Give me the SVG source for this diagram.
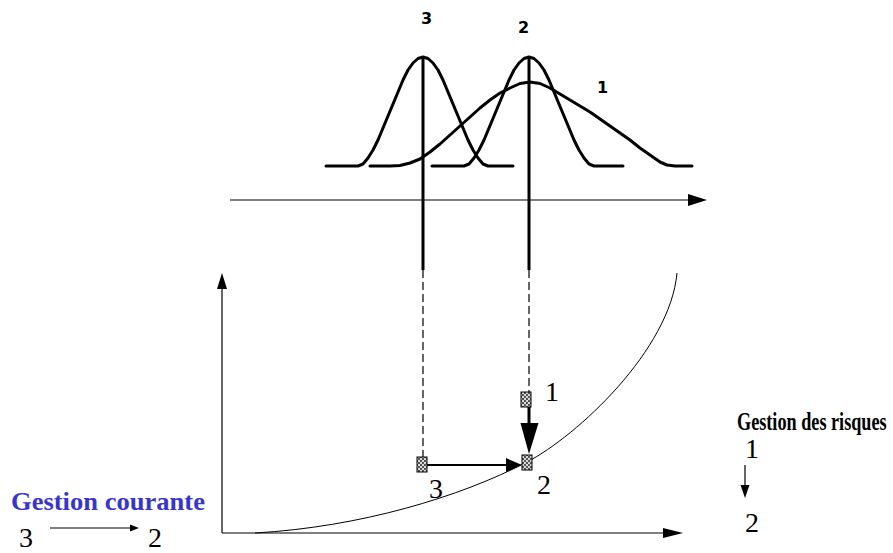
<svg xmlns="http://www.w3.org/2000/svg" width="893" height="553" viewBox="0 0 893 553">
<style>
.bell{fill:none;stroke:#000;stroke-width:3;stroke-linejoin:round;stroke-linecap:round}
.ax{fill:none;stroke:#000;stroke-width:1.2}
.thick{stroke:#000;stroke-width:3}
.dash{stroke:#000;stroke-width:1.2;stroke-dasharray:8 4}
.num{font-family:"Liberation Serif","Times New Roman",serif;font-size:28px;fill:#000}
.small{font-family:"DejaVu Sans",Arial,sans-serif;font-size:16px;font-weight:bold;fill:#000}
.title{font-family:"Liberation Serif","Times New Roman",serif;font-weight:bold}
.pt{fill:url(#chk);stroke:#000;stroke-width:1}
</style>
<defs>
<pattern id="chk" width="4" height="4" patternUnits="userSpaceOnUse">
<rect width="4" height="4" fill="#d8d8d8"/>
<rect width="2" height="2" fill="#555"/>
<rect x="2" y="2" width="2" height="2" fill="#555"/>
</pattern>
</defs>
<rect width="893" height="553" fill="#fff"/>

<g id="distributions">
<path class="bell" d="M326,166 L358,166 L363,164 L368,158 L373,150 L378,140 L383,128 L388,116 L393,104 L398,92 L403,80 L408,70 L413,63 L418,58.5 L423,57 L428,58.5 L433,63 L438,70 L443,80 L448,92 L453,104 L458,116 L463,128 L468,140 L473,150 L478,158 L483,164 L488,166 L513,166"/>
<path class="bell" d="M432,166 L464,166 L469,164 L474,158 L479,150 L484,140 L489,128 L494,116 L499,104 L504,92 L509,80 L514,70 L519,63 L524,58.5 L529,57 L534,58.5 L539,63 L544,70 L549,80 L554,92 L559,104 L564,116 L569,128 L574,140 L579,150 L584,158 L589,164 L594,166 L623,166"/>
<path class="bell" d="M370,166 L390,166 L400,165.5 L410,163 L420,159 L430,152 L440,144 L450,135 L460,126 L470,117 L480,108 L490,100 L500,93 L510,88 L520,83.5 L530,82 L540,83.5 L550,88 L560,94 L570,100 L580,106 L590,112 L600,119 L610,126 L620,133 L630,140 L640,148 L650,155 L660,162 L667,165 L675,166 L692,166"/>
<text class="small" x="421" y="24">3</text>
<text class="small" x="518" y="33">2</text>
<text class="small" x="597" y="93">1</text>
</g>

<g id="top-axis">
<line class="ax" x1="230" y1="200" x2="690" y2="200"/>
<polygon points="707,200 688,194 688,206" fill="#000"/>
</g>

<g id="projections">
<line class="thick" x1="423" y1="57" x2="423" y2="270"/>
<line class="thick" x1="529" y1="57" x2="529" y2="270"/>
<line class="dash" x1="423" y1="270" x2="423" y2="457"/>
<line class="dash" x1="529" y1="270" x2="529" y2="392"/>
</g>

<g id="bottom-axes">
<line class="ax" x1="222" y1="533" x2="222" y2="289"/>
<polygon points="222,273 217,289 227,289" fill="#000"/>
<line class="ax" x1="222" y1="533" x2="665" y2="533"/>
<polygon points="683,533 663,528 663,538" fill="#000"/>
<path d="M255,533 C360,527 460,497 527,462 C577,436 670,350 677,273" fill="none" stroke="#000" stroke-width="1"/>
</g>

<g id="connectors">
<line x1="427" y1="465" x2="508" y2="465" stroke="#000" stroke-width="2"/>
<polygon points="522,465 506,458 506,472" fill="#000"/>
<line x1="529" y1="407" x2="529" y2="426" stroke="#000" stroke-width="3"/>
<polygon points="529,454 520.5,423 538.5,423" fill="#000"/>
</g>

<g id="point-3"><rect class="pt" x="417" y="457" width="10" height="15"/><text class="num" x="429" y="498">3</text></g>
<g id="point-1"><rect class="pt" x="521" y="392" width="10" height="15"/><text class="num" x="545" y="401">1</text></g>
<g id="point-2"><rect class="pt" x="522" y="455" width="10" height="15"/><text class="num" x="537" y="494">2</text></g>

<g id="gestion-courante">
<text class="title" x="11" y="510" font-size="25" fill="#3636cc" textLength="194" lengthAdjust="spacingAndGlyphs">Gestion courante</text>
<text class="num" x="19" y="547">3</text>
<line x1="50" y1="528" x2="132" y2="528" stroke="#000" stroke-width="1.2"/>
<polygon points="139,528 130,524.5 130,531.5" fill="#000"/>
<text class="num" x="148" y="547">2</text>
</g>

<g id="gestion-risques">
<text class="title" transform="translate(737,430) scale(0.7,1)" x="0" y="0" font-size="26" fill="#000">Gestion des risques</text>
<text class="num" x="745" y="458">1</text>
<line x1="745" y1="465" x2="745" y2="486" stroke="#000" stroke-width="1.2"/>
<polygon points="745,498 740.5,485 749.5,485" fill="#000"/>
<text class="num" x="745" y="532">2</text>
</g>
</svg>
